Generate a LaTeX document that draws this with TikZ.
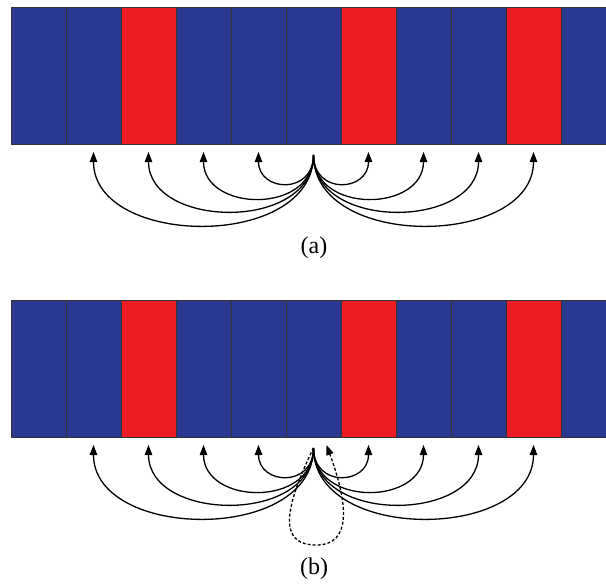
\documentclass[tikz,border=0pt]{standalone}
\usepackage{fontspec}
\setmainfont{Liberation Serif}
\usetikzlibrary{arrows.meta}
\definecolor{CellBlue}{RGB}{43,56,143}
\definecolor{CellRed}{RGB}{237,28,36}
\tikzset{
  cell/.style={draw=black!80,line width=0.9pt,minimum width=55pt,
    minimum height=137pt,inner sep=0pt,outer sep=0pt},
  hop/.style={-{Triangle[length=10pt,width=7.5pt]},line width=1.3pt,black},
  selfhop/.style={hop,dashed,dash pattern=on 3pt off 2pt},
  caption/.style={font=\fontsize{24}{28}\selectfont}
}
\begin{document}
\begin{tikzpicture}[x=1pt,y=-1pt]
  \clip (0,0) rectangle (606,586);
  % two rows of cells
  \foreach \i in {1,...,11}{
    \ifnum\i=3 \def\cc{CellRed}\else\ifnum\i=7 \def\cc{CellRed}\else
      \ifnum\i=10 \def\cc{CellRed}\else\def\cc{CellBlue}\fi\fi\fi
    \node[cell,fill=\cc] (a\i) at (55*\i-16.5,75.5) {};
    \node[cell,fill=\cc] (b\i) at (55*\i-16.5,368.5) {};
  }
  \coordinate (srcA) at ([yshift=-11pt]a6.south);
  \coordinate (srcB) at ([yshift=-11pt]b6.south);
  \coordinate (loopB) at ([xshift=3pt,yshift=-108pt]b6.south);
  % transitions
  \foreach \j/\l in {2/1.11,3/1.19,4/1.39,5/1.86,7/1.86,8/1.39,9/1.19,10/1.11}{
    \draw[hop] (srcA) to[out=-90,in=-90,looseness=\l] ([yshift=-8pt]a\j.south);
    \draw[hop] (srcB) to[out=-90,in=-90,looseness=\l] ([yshift=-8pt]b\j.south);
  }
  \draw[selfhop] (srcB) .. controls +(-34,70) and +(-34,0) .. (loopB)
    .. controls +(35,0) and +(22,60) .. ([xshift=13pt,yshift=-8pt]b6.south);
  \node[caption] (capA) at (314,248) {(a)};
  \node[caption] (capB) at (314,569) {(b)};
\end{tikzpicture}
\end{document}
